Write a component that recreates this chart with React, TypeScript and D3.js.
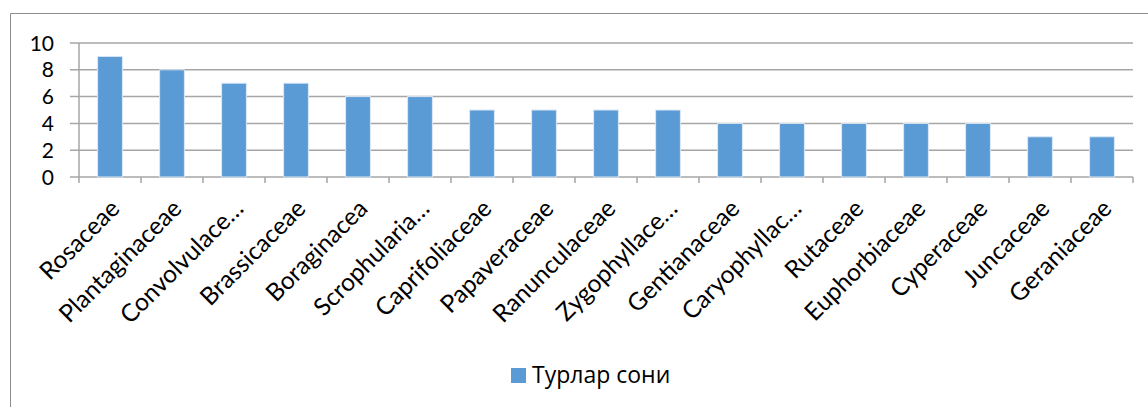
import React, { useRef, useEffect } from 'react';
import * as d3 from 'd3';

const families = [
  'Rosaceae', 'Plantaginaceae', 'Convolvulace…', 'Brassicaceae', 'Boraginacea',
  'Scrophularia…', 'Caprifoliaceae', 'Papaveraceae', 'Ranunculaceae', 'Zygophyllace…',
  'Gentianaceae', 'Caryophyllac…', 'Rutaceae', 'Euphorbiaceae', 'Cyperaceae',
  'Juncaceae', 'Geraniaceae',
];
const speciesCount = [9, 8, 7, 7, 6, 6, 5, 5, 5, 5, 4, 4, 4, 4, 4, 3, 3];
const yTicks = [0, 2, 4, 6, 8, 10];
const seriesName = 'Турлар сони';

const FONT = 'Lato, "Open Sans", sans-serif';
const LEGEND_FONT = '"Open Sans", "Noto Sans", sans-serif';
const BAR = '#5b9bd5';

const App = () => {
  const ref = useRef<SVGSVGElement>(null);

  useEffect(() => {
    const svg = d3.select(ref.current);
    svg.selectAll('*').remove();

    const left = 79, right = 1133, top = 43, bottom = 177;

    const x = d3.scaleBand().domain(families).range([left, right]).paddingInner(0.6).paddingOuter(0.3);
    const xTickScale = d3.scaleBand().domain(families).range([left, right]);
    const y = d3.scaleLinear().domain([0, 10]).range([bottom, top]);

    // chart frame (only top/left visible)
    svg.append('path')
      .attr('d', 'M10.5,420 L10.5,13.5 L1160,13.5')
      .attr('fill', 'none')
      .attr('stroke', '#8c8c8c')
      .attr('stroke-width', 1);

    // gridlines
    svg.append('g')
      .selectAll('line')
      .data(yTicks)
      .enter().append('line')
      .attr('x1', left - 9)
      .attr('x2', right)
      .attr('y1', d => y(d))
      .attr('y2', d => y(d))
      .attr('stroke', '#a6a6a6')
      .attr('stroke-width', 1.5);

    // y axis line
    svg.append('line')
      .attr('x1', left).attr('x2', left)
      .attr('y1', top).attr('y2', bottom)
      .attr('stroke', '#a6a6a6').attr('stroke-width', 1.5);

    // category ticks
    const tickXs = families.map(f => xTickScale(f) as number).concat([right]);
    svg.append('g')
      .selectAll('line')
      .data(tickXs)
      .enter().append('line')
      .attr('x1', d => d).attr('x2', d => d)
      .attr('y1', bottom).attr('y2', bottom + 6)
      .attr('stroke', '#a6a6a6').attr('stroke-width', 1.5);

    // y labels
    svg.append('g')
      .selectAll('text')
      .data(yTicks)
      .enter().append('text')
      .attr('x', 54)
      .attr('y', d => y(d))
      .attr('dy', '0.36em')
      .attr('text-anchor', 'end')
      .style('font-family', FONT)
      .style('font-size', '21px')
      .attr('fill', '#000')
      .text(d => d);

    // bars
    svg.append('g')
      .selectAll('rect')
      .data(families)
      .enter().append('rect')
      .attr('x', d => x(d) as number)
      .attr('width', x.bandwidth())
      .attr('y', (d, i) => y(speciesCount[i]))
      .attr('height', (d, i) => bottom - y(speciesCount[i]))
      .attr('fill', BAR)
      .attr('stroke', '#dbe8f5')
      .attr('stroke-width', 1);

    // x labels
    svg.append('g')
      .selectAll('text')
      .data(families)
      .enter().append('text')
      .attr('transform', d => {
        const cx = (xTickScale(d) as number) + xTickScale.bandwidth() / 2 + 5;
        return `translate(${cx},${bottom + 27}) rotate(-45)`;
      })
      .attr('text-anchor', 'end')
      .attr('dy', '0.35em')
      .style('font-family', FONT)
      .style('font-size', '24.5px')
      .attr('fill', '#000')
      .text(d => d);

    // legend
    const lg = svg.append('g').attr('transform', 'translate(511,368)');
    lg.append('rect').attr('width', 15).attr('height', 15).attr('fill', BAR);
    lg.append('text')
      .attr('x', 21)
      .attr('y', 15)
      .style('font-family', LEGEND_FONT)
      .style('font-size', '23px')
      .attr('fill', '#000')
      .text(seriesName);
  }, []);

  return (
    <svg
      ref={ref}
      width={1148}
      height={407}
      style={{ position: 'absolute', left: 0, top: 0, background: '#fff' }}
    />
  );
};

export default App;
